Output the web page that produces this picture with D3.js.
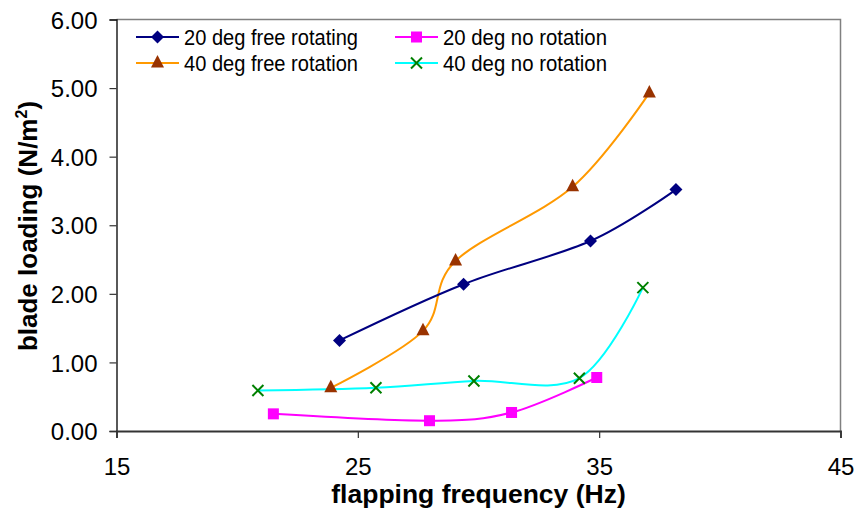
<!DOCTYPE html>
<html>
<head>
<meta charset="utf-8">
<script src="https://cdn.jsdelivr.net/npm/d3@7"></script>
<style>
  html, body { margin: 0; padding: 0; background: #fff; }
  svg { display: block; font-family: "Liberation Sans", Arial, sans-serif; }
</style>
</head>
<body>
<svg id="chart" width="857" height="510"></svg>
<script>
// ---- Data ----
const xTicks = [15, 25, 35, 45];
const yTicks = [0, 1, 2, 3, 4, 5, 6];

const s20FreeX = [24.24, 29.38, 34.64, 38.18];
const s20FreeY = [1.32, 2.14, 2.77, 3.52];

const s40FreeX = [23.88, 27.7, 29.05, 33.9, 37.08];
const s40FreeY = [0.63, 1.46, 2.48, 3.56, 4.93];

const s20NoX = [21.5, 27.97, 31.37, 34.9];
const s20NoY = [0.25, 0.15, 0.27, 0.78];

const s40NoX = [20.86, 25.75, 29.81, 34.18, 36.81];
const s40NoY = [0.59, 0.63, 0.73, 0.77, 2.09];

const seriesNames = ["20 deg free rotating", "20 deg no rotation", "40 deg free rotation", "40 deg no rotation"];

// ---- Build series ----
const zip = (xs, ys) => xs.map((x, i) => ({x, y: ys[i]}));
const series = [
  {name: seriesNames[0], data: zip(s20FreeX, s20FreeY), line: "#000080", mark: "#000080", shape: "diamond"},
  {name: seriesNames[1], data: zip(s20NoX, s20NoY), line: "#FF00FF", mark: "#FF00FF", shape: "square"},
  {name: seriesNames[2], data: zip(s40FreeX, s40FreeY), line: "#FF9900", mark: "#993300", shape: "triangle"},
  {name: seriesNames[3], data: zip(s40NoX, s40NoY), line: "#00FFFF", mark: "#008000", shape: "x"}
];

const svg = d3.select("#chart");
const pLeft = 116.5, pRight = 840.5, pTop = 19.5, pBottom = 431;

const x = d3.scaleLinear().domain([15, 45]).range([pLeft, pRight]);
const y = d3.scaleLinear().domain([0, 6]).range([pBottom, pTop]);

// plot border (top & right)
svg.append("path")
  .attr("d", `M${pLeft},${pTop}H${pRight}V${pBottom}`)
  .attr("fill", "none").attr("stroke", "#808080").attr("stroke-width", 1.5);

// axes
const yAxis = svg.append("g").attr("transform", `translate(${pLeft},0)`)
  .call(d3.axisLeft(y).tickValues(yTicks).tickFormat(d3.format(".2f")).tickSize(7).tickPadding(12));
const xAxis = svg.append("g").attr("transform", `translate(0,${pBottom})`)
  .call(d3.axisBottom(x).tickValues(xTicks).tickFormat(d3.format("d")).tickSize(7).tickPadding(20));

yAxis.select(".domain").attr("stroke", "#000").attr("stroke-width", 1.3);
xAxis.select(".domain").attr("stroke", "#333").attr("stroke-width", 1.8);
svg.selectAll(".tick line").attr("stroke", "#333").attr("stroke-width", 1.2);
svg.selectAll(".tick text").attr("font-size", 24).attr("fill", "#000")
  .attr("font-family", "'Liberation Sans', Arial, sans-serif");
yAxis.selectAll(".tick text").attr("dy", "0.36em");

// lines
const lineGen = d3.line().x(d => x(d.x)).y(d => y(d.y)).curve(d3.curveCardinal.tension(0));
const drawOrder = [series[3], series[1], series[2], series[0]];
drawOrder.forEach(s => {
  svg.append("path").datum(s.data)
    .attr("d", lineGen)
    .attr("fill", "none").attr("stroke", s.line).attr("stroke-width", 2);
});

// markers
function marker(g, shape, color, cx, cy) {
  if (shape === "diamond") {
    g.append("path").attr("d", `M${cx},${cy-6.5}L${cx+6.5},${cy}L${cx},${cy+6.5}L${cx-6.5},${cy}Z`).attr("fill", color);
  } else if (shape === "square") {
    g.append("rect").attr("x", cx-5.5).attr("y", cy-5.5).attr("width", 11).attr("height", 11).attr("fill", color);
  } else if (shape === "triangle") {
    g.append("path").attr("d", `M${cx},${cy-8}L${cx+6.5},${cy+4.5}L${cx-6.5},${cy+4.5}Z`).attr("fill", color);
  } else if (shape === "x") {
    g.append("path").attr("d", `M${cx-5.5},${cy-5.5}L${cx+5.5},${cy+5.5}M${cx+5.5},${cy-5.5}L${cx-5.5},${cy+5.5}`)
      .attr("stroke", color).attr("stroke-width", 2).attr("fill", "none");
  }
}
drawOrder.forEach(s => {
  const g = svg.append("g");
  s.data.forEach(d => marker(g, s.shape, s.mark, x(d.x), y(d.y)));
});

// legend
const legendPos = [
  {lx: 136, ly: 37, w: 174}, {lx: 395, ly: 37, w: 164}, {lx: 136, ly: 63, w: 174}, {lx: 395, ly: 63, w: 164}
];
series.forEach((s, i) => {
  const p = legendPos[i];
  const g = svg.append("g");
  g.append("line").attr("x1", p.lx).attr("x2", p.lx + 43).attr("y1", p.ly).attr("y2", p.ly)
    .attr("stroke", s.line).attr("stroke-width", 2);
  marker(g, s.shape, s.mark, p.lx + 21.5, p.ly);
  g.append("text").attr("x", p.lx + 48).attr("y", p.ly).attr("dy", "0.36em")
    .attr("font-size", 22).attr("fill", "#000")
    .attr("textLength", p.w).attr("lengthAdjust", "spacingAndGlyphs")
    .text(s.name);
});

// axis titles
svg.append("text")
  .attr("x", (pLeft + pRight) / 2).attr("y", 503)
  .attr("text-anchor", "middle").attr("font-size", 26.5).attr("font-weight", "bold")
  .text("flapping frequency (Hz)");

const yt = svg.append("text")
  .attr("transform", `translate(37,226) rotate(-90)`)
  .attr("text-anchor", "middle").attr("font-size", 26).attr("font-weight", "bold");
yt.append("tspan").text("blade loading (N/m");
yt.append("tspan").attr("font-size", 16).attr("dy", -10).text("2");
yt.append("tspan").attr("dy", 10).text(")");
</script>
</body>
</html>
